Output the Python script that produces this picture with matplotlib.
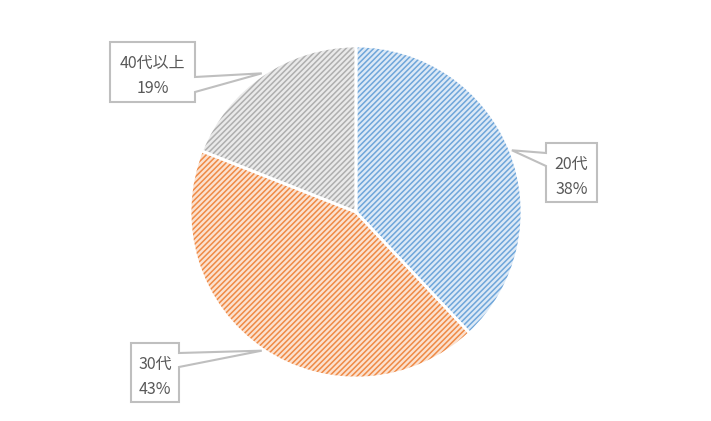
import numpy as np
import matplotlib
matplotlib.use('Agg')
import matplotlib.pyplot as plt
from matplotlib.patches import Polygon

plt.rcParams['font.family'] = ['Noto Sans CJK JP', 'DejaVu Sans']
plt.rcParams['hatch.linewidth'] = 1.1

labels = ['20代', '30代', '40代以上']
shares = [38, 43, 19]
colors = ['#6FA6DA', '#EF8A45', '#AFAFAF']
tints = ['#DCE9F6', '#FBE1CF', '#EAEAEA']

# callout boxes in pixel coords (y up): x0, x1, y0, y1, side, attach y pair
boxes = [
    (546, 597, 219, 278, 'left', (268, 255)),
    (131, 179, 19, 78, 'right', (68, 54)),
    (110, 195, 319, 379, 'right', (344, 329)),
]

W, H = 711, 421
fig = plt.figure(figsize=(W / 100, H / 100), dpi=100)
ax = fig.add_axes([0, 0, 1, 1])

cx, cy, r = 356, 209, 166
wedges, _ = ax.pie(shares, colors=tints, startangle=90, counterclock=False,
                   center=(cx, cy), radius=r, frame=True,
                   wedgeprops=dict(linewidth=0))
for w, c in zip(wedges, colors):
    w.set_hatch('//////')
    w.set_edgecolor(c)
    w.set_linewidth(0)
# white separators
sep, _ = ax.pie(shares, startangle=90, counterclock=False,
                center=(cx, cy), radius=r, frame=True,
                wedgeprops=dict(fill=False, edgecolor='white', linewidth=2))
ax.set_xlim(0, W)
ax.set_ylim(0, H)
ax.set_aspect('equal')
ax.axis('off')

for w, lab, val, b in zip(wedges, labels, shares, boxes):
    ang = np.deg2rad((w.theta1 + w.theta2) / 2)
    tip = (cx + r * 1.01 * np.cos(ang), cy + r * 1.01 * np.sin(ang))
    x0, x1, y0, y1, side, (ya, yb) = b
    if side == 'right':
        pts = [(x0, y0), (x0, y1), (x1, y1), (x1, ya), tip, (x1, yb), (x1, y0)]
    else:
        pts = [(x1, y0), (x1, y1), (x0, y1), (x0, ya), tip, (x0, yb), (x0, y0)]
    ax.add_patch(Polygon(pts, closed=True, facecolor='white',
                         edgecolor='#BFBFBF', linewidth=1.5, zorder=5))
    xm = (x0 + x1) / 2
    h = y1 - y0
    ax.text(xm, y1 - h * 0.36, lab, ha='center', va='center',
            fontsize=11.5, color='#595959', zorder=6)
    ax.text(xm, y1 - h * 0.78, f'{val}%', ha='center', va='center',
            fontsize=11.5, color='#595959', zorder=6)

fig.savefig('out.png', dpi=100)
